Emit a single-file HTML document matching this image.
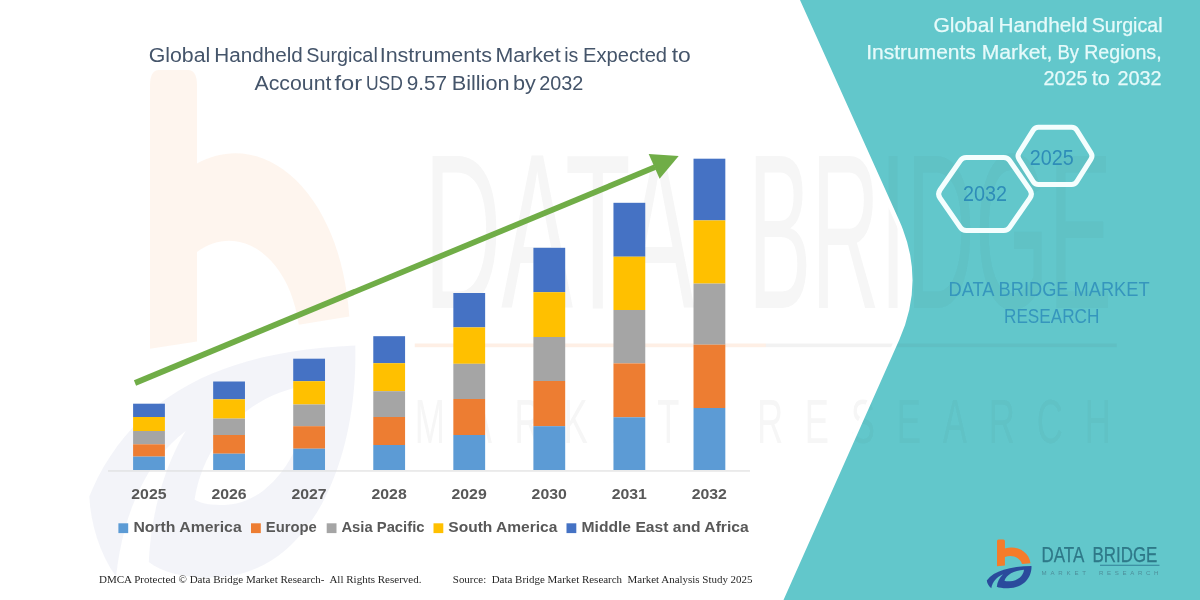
<!DOCTYPE html>
<html><head><meta charset="utf-8">
<style>
html,body{margin:0;padding:0;background:#fff;}
body{width:1200px;height:600px;overflow:hidden;position:relative;font-family:"Liberation Sans",sans-serif;}
svg{position:absolute;left:0;top:0;display:block;}
text{font-family:"Liberation Sans",sans-serif;}
.ttl{font-size:19.5px;fill:#44546A;}
.rt{font-size:19.5px;fill:#E6FAFA;stroke:#E6FAFA;stroke-width:0.25px;}
.yr{font-size:15.2px;font-weight:bold;fill:#595959;}
.lg{font-size:14.8px;font-weight:bold;fill:#595959;}
.ft{font-family:"Liberation Serif",serif;font-size:10.6px;fill:#262626;}
.hx{font-size:21.5px;fill:#2E8DB8;}
.db{font-size:19.5px;fill:#3696BD;}
</style></head>
<body>
<svg width="1200" height="600" viewBox="0 0 1200 600">
<defs>
<g id="lgmark">
<path id="lgo" d="M997,541 Q997,539.5 998.5,539.5 L1003.4,539.5 Q1004.9,539.5 1004.9,541 L1004.9,548.5 C1016,545 1029,551 1030.5,563.2 L1022,564 C1020.5,557.5 1012,554 1004.9,557 L1004.9,565.6 L997,566.3 Z" fill="#F47B2A"/>
<path id="lgb" fill-rule="evenodd" d="M986.8,580.5 C994,570.5 1010,566.5 1031.5,566 C1032,577 1024,588 1008,588.3 C1003,588.4 999,587.8 996.8,586.8 C997.2,582 999.5,577.5 1003,574.2 C996.5,577 992.5,582 991.3,588.2 C988.5,586 987,583 986.8,580.5 Z M1004.5,580.8 C1006,575 1014,570.5 1024,569.8 C1023.5,576 1017.5,581 1010,581.3 C1007.5,581.4 1005.5,581.2 1004.5,580.8 Z" fill="#2C4C9C"/>
</g>
<g id="lgtext">
<text x="1041.5" y="562.4" textLength="42.8" lengthAdjust="spacingAndGlyphs" style="font-size:21.2px;fill:#2E7888;stroke:#2E7888;stroke-width:0.25">DATA</text>
<text x="1092.4" y="562.4" textLength="65" lengthAdjust="spacingAndGlyphs" style="font-size:21.2px;fill:#2E7888;stroke:#2E7888;stroke-width:0.25">BRIDGE</text>
<rect x="1100" y="564.7" width="59.5" height="1.2" fill="#3A8AA0"/>
<text x="1041.5" y="575.4" textLength="44.5" lengthAdjust="spacing" style="font-size:6.1px;fill:#4E8F9A">MARKET</text>
<text x="1099" y="575.4" textLength="59.5" lengthAdjust="spacing" style="font-size:6.1px;fill:#4E8F9A">RESEARCH</text>
</g>
<g id="wm">
<g transform="translate(150,70) scale(5.95,10.4) translate(-997,-539.5)">
<use href="#lgo" opacity="0.08"/><use href="#lgb" opacity="0.06"/>
<g opacity="0.048" fill="#444">
<text x="1043" y="562.4" textLength="45.5" lengthAdjust="spacingAndGlyphs" style="font-size:21.2px;fill:#444">DATA</text>
<text x="1097.5" y="562.4" textLength="61.2" lengthAdjust="spacingAndGlyphs" style="font-size:21.2px;fill:#444">BRIDGE</text>
<text x="1041.5" y="575.4" textLength="44.5" lengthAdjust="spacing" style="font-size:6.1px;fill:#444">MARKET</text>
<text x="1099" y="575.4" textLength="59.5" lengthAdjust="spacing" style="font-size:6.1px;fill:#444">RESEARCH</text>
</g>
<rect x="1041.5" y="565.8" width="59" height="0.35" fill="#F47B2A" opacity="0.12"/>
<rect x="1100.5" y="565.8" width="59" height="0.35" fill="#444" opacity="0.07"/>
</g>
</g>
<clipPath id="pc"><path d="M791,-20 L800,0 L899,220 Q926,280 899.2,340 L783.5,600 L774.6,620 L1220,620 L1220,-20 Z"/></clipPath>
</defs>
<filter id="soft" filterUnits="userSpaceOnUse" x="-20" y="-20" width="1240" height="640"><feGaussianBlur stdDeviation="0.5"/></filter>
<g filter="url(#soft)">
<rect x="-20" y="-20" width="1240" height="640" fill="#ffffff"/>
<!--WATERMARK-->
<!-- teal panel -->
<use href="#wm"/>
<path d="M791,-20 L800,0 L899,220 Q926,280 899.2,340 L783.5,600 L774.6,620" fill="none" stroke="#ffffff" stroke-width="9" stroke-linejoin="round"/>
<path d="M791,-20 L800,0 L899,220 Q926,280 899.2,340 L783.5,600 L774.6,620 L1220,620 L1220,-20 Z" fill="#62C7CB"/>
<g clip-path="url(#pc)" opacity="0.75"><use href="#wm"/></g>

<!-- axis -->
<rect x="108" y="470.4" width="642" height="1.1" fill="#DCDCDC"/>
<!-- bars -->
<rect x="133.10" y="403.7" width="31.8" height="13.3" fill="#4472C4"/>
<rect x="133.10" y="417.0" width="31.8" height="14.0" fill="#FFC000"/>
<rect x="133.10" y="431.0" width="31.8" height="13.3" fill="#A5A5A5"/>
<rect x="133.10" y="444.3" width="31.8" height="12.3" fill="#ED7D31"/>
<rect x="133.10" y="456.6" width="31.8" height="13.4" fill="#5B9BD5"/>
<rect x="213.16" y="381.5" width="31.8" height="17.8" fill="#4472C4"/>
<rect x="213.16" y="399.3" width="31.8" height="19.3" fill="#FFC000"/>
<rect x="213.16" y="418.6" width="31.8" height="16.4" fill="#A5A5A5"/>
<rect x="213.16" y="435.0" width="31.8" height="18.7" fill="#ED7D31"/>
<rect x="213.16" y="453.7" width="31.8" height="16.3" fill="#5B9BD5"/>
<rect x="293.22" y="358.7" width="31.8" height="22.5" fill="#4472C4"/>
<rect x="293.22" y="381.2" width="31.8" height="23.3" fill="#FFC000"/>
<rect x="293.22" y="404.5" width="31.8" height="21.7" fill="#A5A5A5"/>
<rect x="293.22" y="426.2" width="31.8" height="22.5" fill="#ED7D31"/>
<rect x="293.22" y="448.7" width="31.8" height="21.3" fill="#5B9BD5"/>
<rect x="373.28" y="336.2" width="31.8" height="27.0" fill="#4472C4"/>
<rect x="373.28" y="363.2" width="31.8" height="28.0" fill="#FFC000"/>
<rect x="373.28" y="391.2" width="31.8" height="25.8" fill="#A5A5A5"/>
<rect x="373.28" y="417.0" width="31.8" height="28.0" fill="#ED7D31"/>
<rect x="373.28" y="445.0" width="31.8" height="25.0" fill="#5B9BD5"/>
<rect x="453.34" y="293.0" width="31.8" height="34.4" fill="#4472C4"/>
<rect x="453.34" y="327.4" width="31.8" height="36.4" fill="#FFC000"/>
<rect x="453.34" y="363.8" width="31.8" height="35.2" fill="#A5A5A5"/>
<rect x="453.34" y="399.0" width="31.8" height="36.0" fill="#ED7D31"/>
<rect x="453.34" y="435.0" width="31.8" height="35.0" fill="#5B9BD5"/>
<rect x="533.40" y="247.8" width="31.8" height="44.4" fill="#4472C4"/>
<rect x="533.40" y="292.2" width="31.8" height="44.8" fill="#FFC000"/>
<rect x="533.40" y="337.0" width="31.8" height="44.0" fill="#A5A5A5"/>
<rect x="533.40" y="381.0" width="31.8" height="45.2" fill="#ED7D31"/>
<rect x="533.40" y="426.2" width="31.8" height="43.8" fill="#5B9BD5"/>
<rect x="613.46" y="202.8" width="31.8" height="53.9" fill="#4472C4"/>
<rect x="613.46" y="256.7" width="31.8" height="53.3" fill="#FFC000"/>
<rect x="613.46" y="310.0" width="31.8" height="53.4" fill="#A5A5A5"/>
<rect x="613.46" y="363.4" width="31.8" height="53.9" fill="#ED7D31"/>
<rect x="613.46" y="417.3" width="31.8" height="52.7" fill="#5B9BD5"/>
<rect x="693.52" y="158.7" width="31.8" height="61.7" fill="#4472C4"/>
<rect x="693.52" y="220.4" width="31.8" height="63.2" fill="#FFC000"/>
<rect x="693.52" y="283.6" width="31.8" height="61.1" fill="#A5A5A5"/>
<rect x="693.52" y="344.7" width="31.8" height="63.3" fill="#ED7D31"/>
<rect x="693.52" y="408.0" width="31.8" height="62.0" fill="#5B9BD5"/>
<!-- arrow -->
<line x1="135" y1="383" x2="655" y2="167.2" stroke="#70AD47" stroke-width="5.7"/>
<polygon points="648.7,154 678.7,156 659.6,178.7" fill="#70AD47"/>
<!-- year labels -->
<text x="131.3" y="498.6" textLength="35.2" lengthAdjust="spacingAndGlyphs" class="yr">2025</text>
<text x="211.4" y="498.6" textLength="35.2" lengthAdjust="spacingAndGlyphs" class="yr">2026</text>
<text x="291.4" y="498.6" textLength="35.2" lengthAdjust="spacingAndGlyphs" class="yr">2027</text>
<text x="371.5" y="498.6" textLength="35.2" lengthAdjust="spacingAndGlyphs" class="yr">2028</text>
<text x="451.5" y="498.6" textLength="35.2" lengthAdjust="spacingAndGlyphs" class="yr">2029</text>
<text x="531.6" y="498.6" textLength="35.2" lengthAdjust="spacingAndGlyphs" class="yr">2030</text>
<text x="611.7" y="498.6" textLength="35.2" lengthAdjust="spacingAndGlyphs" class="yr">2031</text>
<text x="691.7" y="498.6" textLength="35.2" lengthAdjust="spacingAndGlyphs" class="yr">2032</text>
<!-- legend -->
<rect x="118.4" y="523.3" width="9.8" height="9.8" fill="#5B9BD5"/>
<text x="133.4" y="532.4" textLength="108.3" lengthAdjust="spacingAndGlyphs" class="lg">North America</text>
<rect x="251" y="523.3" width="9.8" height="9.8" fill="#ED7D31"/>
<text x="265.8" y="532.4" textLength="51" lengthAdjust="spacingAndGlyphs" class="lg">Europe</text>
<rect x="326.7" y="523.3" width="9.8" height="9.8" fill="#A5A5A5"/>
<text x="341.4" y="532.4" textLength="83.1" lengthAdjust="spacingAndGlyphs" class="lg">Asia Pacific</text>
<rect x="433.5" y="523.3" width="9.8" height="9.8" fill="#FFC000"/>
<text x="448.3" y="532.4" textLength="109.1" lengthAdjust="spacingAndGlyphs" class="lg">South America</text>
<rect x="566.5" y="523.3" width="9.8" height="9.8" fill="#4472C4"/>
<text x="581.5" y="532.4" textLength="167.2" lengthAdjust="spacingAndGlyphs" class="lg">Middle East and Africa</text>
<!-- title -->
<text x="148.7" y="62.4" textLength="61.6" lengthAdjust="spacingAndGlyphs" class="ttl">Global</text>
<text x="214.2" y="62.4" textLength="88.6" lengthAdjust="spacingAndGlyphs" class="ttl">Handheld</text>
<text x="306.2" y="62.4" textLength="71.6" lengthAdjust="spacingAndGlyphs" class="ttl">Surgical</text>
<text x="379.7" y="62.4" textLength="112.3" lengthAdjust="spacingAndGlyphs" class="ttl">Instruments</text>
<text x="495.4" y="62.4" textLength="65.3" lengthAdjust="spacingAndGlyphs" class="ttl">Market</text>
<text x="564.2" y="62.4" textLength="14.1" lengthAdjust="spacingAndGlyphs" class="ttl">is</text>
<text x="583.0" y="62.4" textLength="84.1" lengthAdjust="spacingAndGlyphs" class="ttl">Expected</text>
<text x="671.7" y="62.4" textLength="19.1" lengthAdjust="spacingAndGlyphs" class="ttl">to</text>
<text x="254.5" y="89.6" textLength="76.9" lengthAdjust="spacingAndGlyphs" class="ttl">Account</text>
<text x="334.4" y="89.6" textLength="27.7" lengthAdjust="spacingAndGlyphs" class="ttl">for</text>
<text x="365.9" y="89.6" textLength="36.9" lengthAdjust="spacingAndGlyphs" class="ttl">USD</text>
<text x="406.7" y="89.6" textLength="40.4" lengthAdjust="spacingAndGlyphs" class="ttl">9.57</text>
<text x="451.7" y="89.6" textLength="57.9" lengthAdjust="spacingAndGlyphs" class="ttl">Billion</text>
<text x="513.0" y="89.6" textLength="22.9" lengthAdjust="spacingAndGlyphs" class="ttl">by</text>
<text x="539.2" y="89.6" textLength="44.1" lengthAdjust="spacingAndGlyphs" class="ttl">2032</text>
<!-- right title -->
<text x="933.4" y="31.6" textLength="60.7" lengthAdjust="spacingAndGlyphs" class="rt">Global</text>
<text x="998.4" y="31.6" textLength="89.1" lengthAdjust="spacingAndGlyphs" class="rt">Handheld</text>
<text x="1091.7" y="31.6" textLength="70.8" lengthAdjust="spacingAndGlyphs" class="rt">Surgical</text>
<text x="866.2" y="58.5" textLength="109.6" lengthAdjust="spacingAndGlyphs" class="rt">Instruments</text>
<text x="981.7" y="58.5" textLength="70.6" lengthAdjust="spacingAndGlyphs" class="rt">Market,</text>
<text x="1057.5" y="58.5" textLength="21.6" lengthAdjust="spacingAndGlyphs" class="rt">By</text>
<text x="1084.2" y="58.5" textLength="77.4" lengthAdjust="spacingAndGlyphs" class="rt">Regions,</text>
<text x="1043.4" y="85.3" textLength="44.1" lengthAdjust="spacingAndGlyphs" class="rt">2025</text>
<text x="1091.7" y="85.3" textLength="18.3" lengthAdjust="spacingAndGlyphs" class="rt">to</text>
<text x="1117.5" y="85.3" textLength="44.1" lengthAdjust="spacingAndGlyphs" class="rt">2032</text>
<!-- hexagons -->
<path d="M939.96,197.99 Q937.20,194.00 939.96,190.01 L960.41,160.51 Q962.50,157.50 966.17,157.50 L1003.83,157.50 Q1007.50,157.50 1009.59,160.51 L1030.04,190.01 Q1032.80,194.00 1030.04,197.99 L1009.59,227.49 Q1007.50,230.50 1003.83,230.50 L966.17,230.50 Q962.50,230.50 960.41,227.49 Z" fill="none" stroke="#F4FEFE" stroke-width="5" stroke-linejoin="round"/>
<path d="M1019.02,159.19 Q1017.00,156.00 1019.01,152.80 L1033.24,130.11 Q1035.00,127.30 1038.32,127.30 L1071.68,127.30 Q1075.00,127.30 1076.76,130.11 L1090.99,152.80 Q1093.00,156.00 1090.98,159.19 L1076.77,181.70 Q1075.00,184.50 1071.69,184.50 L1038.31,184.50 Q1035.00,184.50 1033.23,181.70 Z" fill="none" stroke="#F4FEFE" stroke-width="5" stroke-linejoin="round"/>
<text x="963" y="201" textLength="44" lengthAdjust="spacingAndGlyphs" class="hx">2032</text>
<text x="1029.7" y="164.8" textLength="44" lengthAdjust="spacingAndGlyphs" class="hx">2025</text>
<!-- DBMR text -->
<text x="948.6" y="295.9" textLength="201" lengthAdjust="spacingAndGlyphs" class="db">DATA BRIDGE MARKET</text>
<text x="1004" y="323" textLength="95.4" lengthAdjust="spacingAndGlyphs" class="db">RESEARCH</text>
<!-- footer -->
<text x="99" y="582.6" textLength="322.5" lengthAdjust="spacingAndGlyphs" class="ft" xml:space="preserve">DMCA Protected © Data Bridge Market Research-  All Rights Reserved.</text>
<text x="452.8" y="582.6" textLength="299.7" lengthAdjust="spacingAndGlyphs" class="ft" xml:space="preserve">Source:  Data Bridge Market Research  Market Analysis Study 2025</text>
<use href="#lgmark"/><use href="#lgtext"/>
</g>
</svg>
</body></html>
